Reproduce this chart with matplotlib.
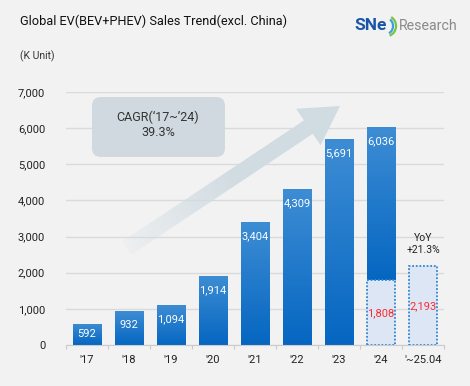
"""Global EV (BEV+PHEV) sales trend excluding China, SNE Research style."""

import matplotlib

matplotlib.use("Agg")
import matplotlib.pyplot as plt
import numpy as np
from matplotlib.colors import LinearSegmentedColormap, to_rgb
from matplotlib.patches import Arc, FancyArrow, FancyBboxPatch
from matplotlib.transforms import Affine2D

# data (K units)
years = ["'17", "'18", "'19", "'20", "'21", "'22", "'23", "'24", "'~25.04"]
annual_sales = [592, 932, 1094, 1914, 3404, 4309, 5691, 6036]
ytd_labels = ["'24", "'~25.04"]
ytd_sales = [1808, 2193]
yticks = [0, 1000, 2000, 3000, 4000, 5000, 6000, 7000]

BG = "#f2f2f2"
W, H = 470, 386
plt.rcParams["font.family"] = ["Roboto", "DejaVu Sans"]

fig = plt.figure(figsize=(4.7, 3.86), dpi=100, facecolor=BG)
ax = fig.add_axes([66 / W, 1 - 345 / H, 378 / W, 253 / H])
ax.set_facecolor("none")

# pixel coordinates (origin top-left) for decorations
px = Affine2D().scale(1 / W, -1 / H).translate(0, 1) + fig.transFigure

x = np.arange(len(years))
width = 0.67
grad = LinearSegmentedColormap.from_list("bar", ["#0566c1", "#3e8dd4"])

# annual bars; the '24 bar starts above its Jan-Apr part
bottoms = [0] * 7 + [ytd_sales[0]]
heights = [v - b for v, b in zip(annual_sales, bottoms)]
bars = ax.bar(x[:8], heights, width, bottom=bottoms, color="#1f78c9",
              edgecolor="#8fbde6", linewidth=0.5, zorder=2)
gvals = np.linspace(0, 1, 256).reshape(-1, 1)
for b in bars:
    x0, y0 = b.get_x(), b.get_y()
    im = ax.imshow(gvals, extent=[x0, x0 + b.get_width(), y0, y0 + b.get_height()],
                   origin="lower", cmap=grad, aspect="auto", zorder=2.1)
    im.set_clip_path(b)

# Jan-Apr bars (dotted)
ytd_x = [years.index(c) for c in ytd_labels]
ax.bar(ytd_x, ytd_sales, width, color="#dce6f4", edgecolor="#2f86d6",
       linewidth=1.3, linestyle=(0, (1, 1)), zorder=2.5)

ax.set_xlim(-0.5, 8.5)
ax.set_ylim(0, 7000)

# value labels
px_unit = 7000 / 253
for xi, v, b in zip(x, annual_sales, bottoms):
    off = min(14 * px_unit, (v - b) / 2)
    ax.text(xi, v - off, f"{v:,}", ha="center", va="center", color="white",
            fontsize=8, zorder=3)
for xi, v in zip(ytd_x, ytd_sales):
    ax.text(xi, v * 0.49, f"{v:,}", ha="center", va="center",
            color="#ff2a2a", fontsize=8, zorder=3)

ax.text(ytd_x[1], ytd_sales[1] + 300, "YoY\n+21.3%", ha="center", va="bottom",
        fontsize=7.5, color="#222222", linespacing=1.25, zorder=3)

# axes styling
ax.set_yticks(yticks)
ax.set_yticklabels([f"{t:,}" for t in yticks])
ax.set_xticks(x)
ax.set_xticklabels(years)
ax.set_xticks(np.arange(-0.5, 8.6, 1), minor=True)
ax.tick_params(axis="y", length=0, pad=15, labelsize=8, labelcolor="#222222")
ax.tick_params(axis="x", which="major", length=0, pad=7, labelsize=8, labelcolor="#222222")
ax.tick_params(axis="x", which="minor", length=3, color="#c8c8c8", width=0.8)
ax.grid(axis="y", color="#dadada", linewidth=1)
ax.set_axisbelow(True)
for s in ["top", "right", "left"]:
    ax.spines[s].set_visible(False)
ax.spines["bottom"].set_color("#cccccc")

# CAGR arrow, fading in from the tail
tail, tip = np.array([127.0, 248.0]), np.array([340.0, 106.0])
arrow = FancyArrow(tail[0], tail[1], *(tip - tail), width=16, head_width=44,
                   head_length=38, length_includes_head=True, facecolor="none",
                   edgecolor="none", transform=px, zorder=1)
ax.add_patch(arrow)
gx, gy = np.meshgrid(np.arange(66, 445) + 0.5, np.arange(92, 345) + 0.5)
d = tip - tail
t = ((gx - tail[0]) * d[0] + (gy - tail[1]) * d[1]) / (d @ d)
rgba = np.zeros(gx.shape + (4,))
rgba[..., :3] = to_rgb("#d1dce2")
rgba[..., 3] = 0.15 + 0.85 * np.clip(t / 0.5, 0, 1)
fade = ax.imshow(rgba, extent=[-0.5, 8.5, 0, 7000], origin="upper", aspect="auto",
                 zorder=1, interpolation="bilinear")
fade.set_clip_path(arrow)

box = FancyBboxPatch((92, 97), 133, 60, boxstyle="round,pad=0,rounding_size=9",
                     facecolor="#cfd9df", edgecolor="none", transform=px,
                     zorder=1.2, clip_on=False)
ax.add_patch(box)
ax.text(158, 117, "CAGR(‘17~’24)", transform=px, ha="center", va="center",
        fontsize=9, color="#333333", zorder=3)
ax.text(158, 133, "39.3%", transform=px, ha="center", va="center",
        fontsize=9, color="#333333", zorder=3)
ax.set_xlim(-0.5, 8.5)
ax.set_ylim(0, 7000)

# titles
fig.text(20, 21, "Global EV(BEV+PHEV) Sales Trend(excl. China)", transform=px,
         ha="left", va="center", fontsize=9.2, color="#111111")
fig.text(20, 56, "(K Unit)", transform=px, ha="left", va="center",
         fontsize=7.5, color="#333333")

# logo
fig.text(354, 26, "SNe", transform=px, ha="left", va="center", fontsize=12.5,
         fontweight="bold", color="#1a56a6")
for w, h, c in [(12, 15, "#3aa0e0"), (18, 20, "#7cc242")]:
    fig.patches.append(Arc((387, 26), w, h, theta1=-65, theta2=75, color=c,
                           linewidth=1.6, transform=px))
fig.text(399, 26, "Research", transform=px, ha="left", va="center", fontsize=10.2,
         color="#8a8a8a")

fig.savefig("out.png", dpi=100, facecolor=BG)
plt.close(fig)
